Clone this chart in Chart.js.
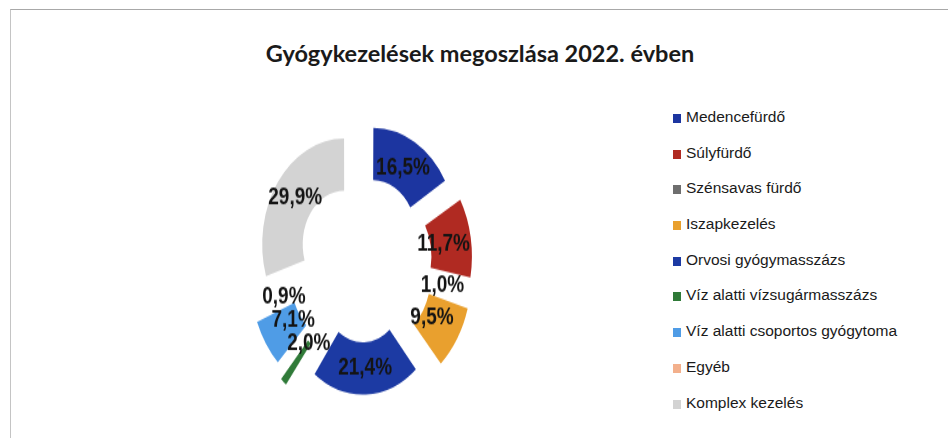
<script src="https://cdn.jsdelivr.net/npm/chart.js"></script>
<style>
    body {
        margin: 0;
        padding: 0;
        width: 948px;
        height: 438px;
        background-color: #ffffff;
        font-family: "Liberation Sans Narrow", "Liberation Sans", sans-serif;
        position: relative;
        overflow: hidden;
    }
    .frame {
        position: absolute;
        left: 10px;
        top: 9px;
        width: 960px;
        height: 460px;
        border-top: 1px solid #a8a8a8;
        border-left: 1px solid #c4c4c4;
    }
    .chart-title {
        position: absolute;
        left: 0;
        width: 960px;
        top: 39px;
        text-align: center;
        font-family: Lato, sans-serif;
        font-weight: bold;
        font-size: 23.5px;
        color: #1a1a1a;
    }
    .pie-box {
        position: absolute;
        left: 232px;
        top: 131px;
        width: 260px;
        height: 260px;
        transform: scaleY(1.29);
        transform-origin: center center;
    }
    #legend {
        position: absolute;
        left: 673px;
        top: 104px;
        margin: 0;
        padding: 0;
        list-style: none;
    }
    #legend li {
        height: 35.7px;
        line-height: 26px;
        font-size: 15.5px;
        color: #1a1a1a;
        white-space: nowrap;
    }
    #legend span.box {
        display: inline-block;
        width: 8px;
        height: 9px;
        margin-right: 5px;
        vertical-align: -1px;
    }
</style>

<div class="frame"></div>
<div class="chart-title">Gyógykezelések megoszlása 2022. évben</div>
<div class="pie-box"><canvas id="pie" width="260" height="260" style="width:260px;height:260px"></canvas></div>
<ul id="legend"></ul>

<script>
    // categories and their share in percent
    const categories = [
        "Medencefürdő",
        "Súlyfürdő",
        "Szénsavas fürdő",
        "Iszapkezelés",
        "Orvosi gyógymasszázs",
        "Víz alatti vízsugármasszázs",
        "Víz alatti csoportos gyógytoma",
        "Egyéb",
        "Komplex kezelés"
    ];
    const shares = [16.5, 11.7, 1.0, 9.5, 21.4, 2.0, 7.1, 0.9, 29.9];

    const sliceColors = [
        "#1c35a0", "#b02a22", "#6e6e6e", "#e9a02e", "#1c3aa3",
        "#2f7a38", "#4f9ce6", "#f3b08c", "#d3d3d3"
    ];

    // draws the percent label in the middle of each (exploded) ring segment
    const sliceLabels = {
        id: 'sliceLabels',
        afterDatasetsDraw(chart) {
            const ctx = chart.ctx;
            const meta = chart.getDatasetMeta(0);
            ctx.save();
            ctx.font = 'bold 19px "Liberation Sans Narrow", sans-serif';
            ctx.fillStyle = '#141414';
            ctx.textAlign = 'center';
            ctx.textBaseline = 'middle';
            meta.data.forEach((arc, i) => {
                const p = arc.getProps(['x', 'y', 'startAngle', 'endAngle', 'innerRadius', 'outerRadius']);
                const mid = (p.startAngle + p.endAngle) / 2;
                // chart.js moves an arc by a quarter of its offset option
                const r = (p.innerRadius + p.outerRadius) / 2 + arc.options.offset / 4;
                const text = shares[i].toFixed(1).replace('.', ',') + '%';
                ctx.fillText(text, p.x + Math.cos(mid) * r, p.y + Math.sin(mid) * r);
            });
            ctx.restore();
        }
    };

    const chart = new Chart(document.getElementById('pie'), {
        type: 'doughnut',
        data: {
            labels: categories,
            datasets: [{
                data: shares,
                backgroundColor: sliceColors,
                borderWidth: 0,
                offset: 88
            }]
        },
        options: {
            responsive: false,
            animation: false,
            events: [],
            cutout: '50%',
            layout: { padding: 5 },
            plugins: {
                legend: { display: false },
                tooltip: { enabled: false }
            }
        },
        plugins: [sliceLabels]
    });

    // legend on the right, built from the chart's data
    const legend = document.getElementById('legend');
    chart.data.labels.forEach((label, i) => {
        const li = document.createElement('li');
        const box = document.createElement('span');
        box.className = 'box';
        box.style.background = chart.data.datasets[0].backgroundColor[i];
        li.appendChild(box);
        li.appendChild(document.createTextNode(label));
        legend.appendChild(li);
    });
</script>
